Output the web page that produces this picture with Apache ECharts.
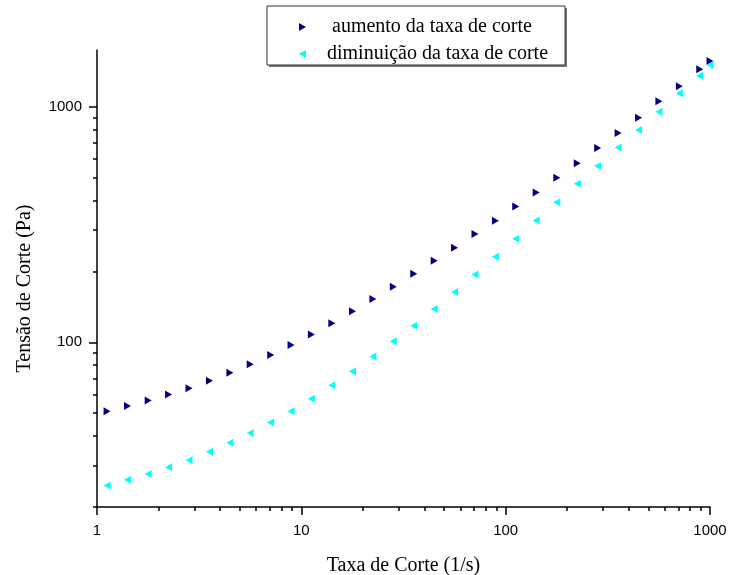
<!DOCTYPE html>
<html>
<head>
<meta charset="utf-8">
<script src="https://cdn.jsdelivr.net/npm/echarts@6/dist/echarts.min.js"></script>
<style>html,body{margin:0;padding:0;background:#fff}#c{width:730px;height:575px}</style>
</head>
<body>
<div id="c"></div>
<script>
const shearRate = [1.12, 1.41, 1.78, 2.24, 2.82, 3.55, 4.47, 5.62, 7.08, 8.91,
  11.2, 14.1, 17.8, 22.4, 28.2, 35.5, 44.7, 56.2, 70.8, 89.1,
  112, 141, 178, 224, 282, 355, 447, 562, 708, 891, 1000];
const stressUp = [51.0, 53.6, 56.6, 60.0, 63.8, 68.6, 74.2, 80.7, 88.4, 97.5,
  107.8, 120.4, 135.3, 152.8, 172.2, 195.5, 221.9, 251.9, 288.0, 327.9,
  377.0, 432.1, 498.8, 575.7, 668.3, 773.6, 898.2, 1054, 1220, 1440, 1562];
const stressDown = [24.7, 26.1, 27.6, 29.5, 31.6, 34.3, 37.5, 41.2, 45.7, 51.0,
  57.6, 65.7, 75.1, 87.0, 101.0, 117.7, 138.5, 163.6, 194.2, 230.7,
  275.0, 328.8, 393.4, 470.5, 560.7, 670.3, 796.8, 952.4, 1140, 1353, 1502];
const seriesNames = ['aumento da taxa de corte', 'diminuição da taxa de corte'];
const xTickLabels = [1, 10, 100, 1000];
const xMinorTicks = [2,3,4,5,6,7,8,9,20,30,40,50,60,70,80,90,200,300,400,500,600,700,800,900];
const yTickLabels = [100, 1000];
const yMinorTicks = [20,30,40,50,60,70,80,90,200,300,400,500,600,700,800,900];
const xTitle = 'Taxa de Corte (1/s)';
const yTitle = 'Tensão de Corte (Pa)';

const serif = 'Liberation Serif';
const sans = 'Liberation Sans';
const chart = echarts.init(document.getElementById('c'));
const zip = (xs, ys) => xs.map((x, i) => [x, ys[i]]);
const plain = v => String(Math.round(v));
const rightTri = 'path://M0,0L7,4L0,8Z';
const leftTri = 'path://M7,0L0,4L7,8Z';

chart.setOption({
  animation: false,
  backgroundColor: '#fff',
  grid: {left: 97, right: 20, top: 50, bottom: 68, containLabel: false, outerBoundsMode: 'none'},
  graphic: [{
    type: 'rect', z: 1,
    shape: {x: 269, y: 8, width: 298, height: 59},
    style: {fill: '#777', stroke: null}
  }, {
    type: 'rect', z: 2,
    shape: {x: 267, y: 6, width: 298, height: 59},
    style: {fill: '#fff', stroke: '#333', lineWidth: 1}
  }],
  legend: [
    {data: [{name: seriesNames[0], icon: rightTri}], left: 299, top: 17, padding: 0, z: 5,
      itemWidth: 7, itemHeight: 8,
      textStyle: {fontFamily: serif, fontSize: 20, color: '#000', padding: [0, 0, 0, 21]}},
    {data: [{name: seriesNames[1], icon: leftTri}], left: 299, top: 44, padding: 0, z: 5,
      itemWidth: 7, itemHeight: 8,
      textStyle: {fontFamily: serif, fontSize: 20, color: '#000', padding: [0, 0, 0, 16]}}
  ],
  xAxis: [{
    type: 'log', logBase: 10, min: 1, max: 1000,
    name: xTitle, nameLocation: 'middle', nameGap: 49,
    nameTextStyle: {fontFamily: serif, fontSize: 20, color: '#000'},
    axisLine: {lineStyle: {color: '#000', width: 1.5}},
    axisTick: {length: 8, inside: false, customValues: xTickLabels, lineStyle: {color: '#000', width: 1.5}},
    axisLabel: {customValues: xTickLabels, formatter: plain, fontFamily: sans, fontSize: 15, color: '#000', margin: 16},
    splitLine: {show: false}
  }, {
    type: 'log', logBase: 10, min: 1, max: 1000, position: 'bottom',
    axisLine: {show: false},
    axisTick: {length: 4, customValues: xMinorTicks, lineStyle: {color: '#000', width: 1.5}},
    axisLabel: {show: false},
    splitLine: {show: false}
  }],
  yAxis: [{
    type: 'log', logBase: 10, min: 20, max: 1740,
    name: yTitle, nameLocation: 'middle', nameGap: 62,
    nameTextStyle: {fontFamily: serif, fontSize: 20, color: '#000', padding: [0, 20, 0, 0]},
    axisLine: {lineStyle: {color: '#000', width: 1.5}},
    axisTick: {length: 8, customValues: yTickLabels, lineStyle: {color: '#000', width: 1.5}},
    axisLabel: {customValues: yTickLabels, formatter: plain, fontFamily: sans, fontSize: 15, color: '#000', margin: 15},
    splitLine: {show: false}
  }, {
    type: 'log', logBase: 10, min: 20, max: 1740, position: 'left',
    axisLine: {show: false},
    axisTick: {length: 4, customValues: yMinorTicks, lineStyle: {color: '#000', width: 1.5}},
    axisLabel: {show: false},
    splitLine: {show: false}
  }],
  series: [{
    name: seriesNames[0], type: 'scatter', data: zip(shearRate, stressUp),
    symbol: 'triangle', symbolSize: [8, 7], symbolRotate: -90,
    itemStyle: {color: '#000080', opacity: 1}, z: 3
  }, {
    name: seriesNames[1], type: 'scatter', data: zip(shearRate, stressDown),
    symbol: 'triangle', symbolSize: [8, 7], symbolRotate: 90,
    itemStyle: {color: '#00FFFF', opacity: 1}, z: 3
  }]
});
</script>
</body>
</html>
